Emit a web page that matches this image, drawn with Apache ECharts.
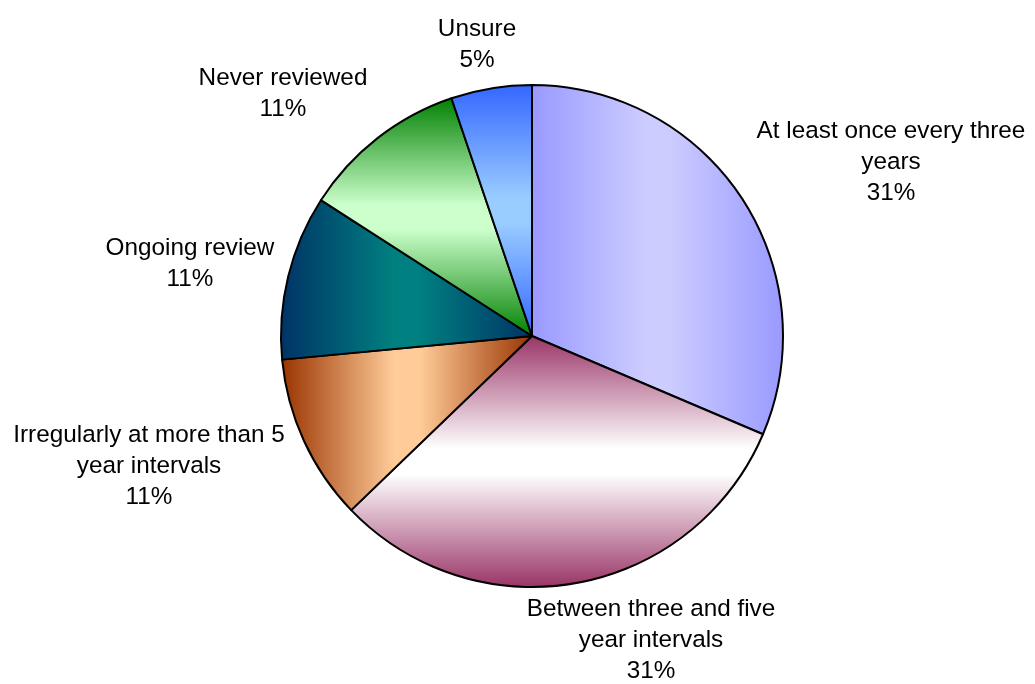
<!DOCTYPE html>
<html>
<head>
<meta charset="utf-8">
<script src="https://cdn.jsdelivr.net/npm/echarts@6/dist/echarts.min.js"></script>
<style>
  html, body { margin: 0; padding: 0; background: #ffffff; }
  #chart { width: 1035px; height: 684px; }
</style>
</head>
<body>
<div id="chart"></div>
<script>
// ---- data ----
const categories = [
  "At least once every three\nyears",
  "Between three and five\nyear intervals",
  "Irregularly at more than 5\nyear intervals",
  "Ongoing review",
  "Never reviewed",
  "Unsure"
];
const values = [31.4, 31.4, 10.7, 10.6, 10.7, 5.2];

// ---- styles ----
const gradientDefs = [
  { dir: 'h', edge: '#9999FF', mid: '#CCCCFF' },
  { dir: 'v', edge: '#993366', mid: '#FFFFFF' },
  { dir: 'h', edge: '#993300', mid: '#FFCC99' },
  { dir: 'h', edge: '#003366', mid: '#008080' },
  { dir: 'v', edge: '#008000', mid: '#CCFFCC' },
  { dir: 'v', edge: '#3366FF', mid: '#99CCFF' }
];
const labelPos = [
  [891, 162], [651, 640], [149, 466], [190, 264], [283, 94], [477, 45]
];

function grad(g) {
  const stops = [
    { offset: 0, color: g.edge },
    { offset: 0.45, color: g.mid },
    { offset: 0.55, color: g.mid },
    { offset: 1, color: g.edge }
  ];
  return g.dir === 'h'
    ? new echarts.graphic.LinearGradient(0, 0, 1, 0, stops)
    : new echarts.graphic.LinearGradient(0, 0, 0, 1, stops);
}

const chart = echarts.init(document.getElementById('chart'), null, { renderer: 'canvas' });
chart.setOption({
  backgroundColor: '#ffffff',
  animation: false,
  series: [{
    type: 'pie',
    center: [532, 336],
    radius: [0, 251],
    startAngle: 90,
    clockwise: true,
    percentPrecision: 0,
    avoidLabelOverlap: false,
    data: categories.map((c, i) => ({
      name: c,
      value: values[i],
      itemStyle: { color: grad(gradientDefs[i]) }
    })),
    itemStyle: { borderColor: '#000000', borderWidth: 2 },
    label: {
      show: true,
      position: 'outside',
      formatter: '{b}\n{d}%',
      color: '#000000',
      fontFamily: 'Liberation Sans, Arial, sans-serif',
      fontSize: 24.3,
      lineHeight: 31,
      align: 'center'
    },
    labelLine: { show: false },
    labelLayout: function (p) {
      const pos = labelPos[p.dataIndex];
      return { x: pos[0], y: pos[1], align: 'center', verticalAlign: 'middle' };
    },
    emphasis: { disabled: true }
  }]
});
</script>
</body>
</html>
